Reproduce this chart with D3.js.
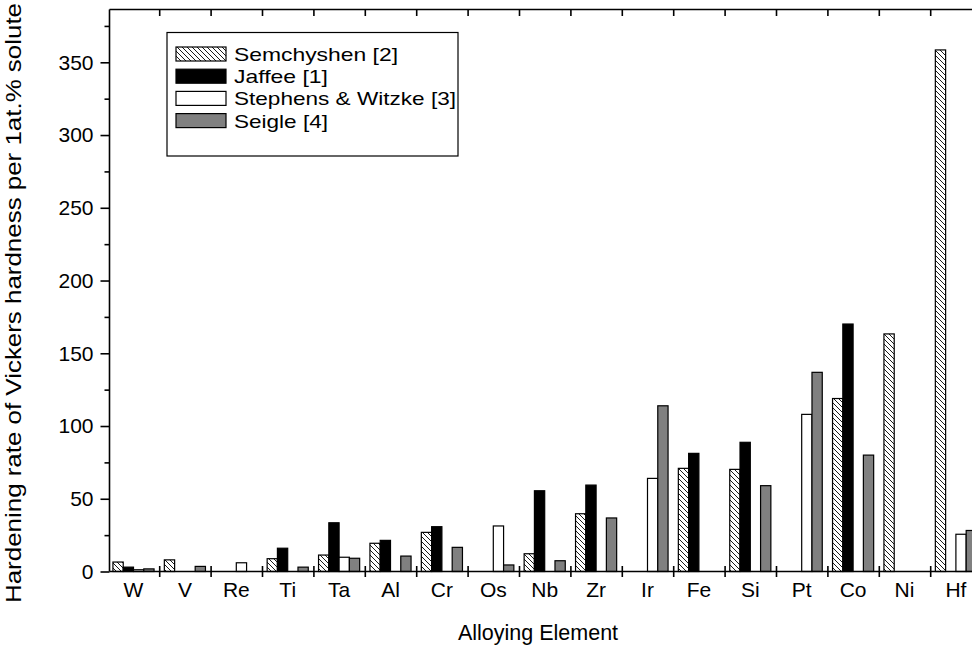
<!DOCTYPE html>
<html>
<head>
<meta charset="utf-8">
<script src="https://cdn.jsdelivr.net/npm/d3@7"></script>
<style>
  html, body { margin: 0; padding: 0; background: #fff; }
  svg { display: block; }
  text { font-family: "Liberation Sans", Arial, sans-serif; fill: #000; }
</style>
</head>
<body>
<svg id="chart" width="972" height="645"></svg>
<script>
const categories = ["W","V","Re","Ti","Ta","Al","Cr","Os","Nb","Zr","Ir","Fe","Si","Pt","Co","Ni","Hf"];
const semchyshen = [6.5, 8, null, 8.8, 11.3, 19.4, 26.9, null, 12.2, 39.7, null, 70.9, 70.2, null, 118.9, 163.3, 358.5];
const jaffee     = [3, null, null, 16, 33.5, 21.4, 30.8, null, 55.5, 59.4, null, 81.2, 88.8, null, 170.1, null, null];
const stephens   = [1.2, null, 6, null, 9.8, null, null, 31.3, null, null, 64, null, null, 108, null, null, 25.6];
const seigle     = [1.8, 3.5, null, 3, 9.1, 10.6, 16.6, 4.5, 7.4, 36.8, 113.9, null, 59, 136.9, 80, null, 28.2];
const seriesNames = ["Semchyshen [2]", "Jaffee [1]", "Stephens & Witzke [3]", "Seigle [4]"];
const yTicks = [0, 50, 100, 150, 200, 250, 300, 350];
const yMinorTicks = [25, 75, 125, 175, 225, 275, 325, 375];
const xTitle = "Alloying Element";
const yTitle = "Hardening rate of Vickers hardness per 1at.% solute";

const seriesValues = [semchyshen, jaffee, stephens, seigle];
const fills = ["url(#hatch)", "#000000", "#ffffff", "#808080"];
const legendWidths = [164, 94, 222, 94];

const svg = d3.select("#chart");
svg.append("rect").attr("width", 972).attr("height", 645).attr("fill", "#fff");

const defs = svg.append("defs");
const pat = defs.append("pattern").attr("id", "hatch").attr("patternUnits", "userSpaceOnUse")
  .attr("width", 5).attr("height", 5);
pat.append("rect").attr("width", 5).attr("height", 5).attr("fill", "#fff");
pat.append("path").attr("d", "M0,0 L5,5 M-1,4 L1,6 M4,-1 L6,1")
  .attr("stroke", "#000").attr("stroke-width", 0.9);

const axisLeftX = 109.5, plotTop = 9.5, plotBottom = 571.5, plotRight = 1000;
const bandStart = 107.8, bandW = 51.4;

const x = d3.scaleBand().domain(categories)
  .range([bandStart, bandStart + bandW * categories.length]).paddingInner(0).paddingOuter(0);
const xIdx = d3.scaleLinear().domain([0, categories.length]).range(x.range());
const xInner = d3.scaleBand().domain(d3.range(seriesValues.length))
  .range([0.1 * x.bandwidth(), 0.9 * x.bandwidth()]).padding(0);
const y = d3.scaleLinear().domain([0, (plotBottom - plotTop) / ((plotBottom - 62.3) / 350)])
  .range([plotBottom, plotTop]);

// Bars
const barData = [];
seriesValues.forEach((vals, s) => {
  vals.forEach((v, i) => { if (v !== null) barData.push({ cat: categories[i], s, v }); });
});
svg.append("g").selectAll("rect").data(barData).enter().append("rect")
  .attr("x", d => x(d.cat) + xInner(d.s))
  .attr("width", xInner.bandwidth())
  .attr("y", d => y(d.v))
  .attr("height", d => y(0) - y(d.v))
  .attr("fill", d => fills[d.s])
  .attr("stroke", "#000").attr("stroke-width", 1.2);

// Frame lines
const frame = svg.append("g").attr("stroke", "#000").attr("stroke-width", 1.6).attr("fill", "none");
frame.append("line").attr("x1", axisLeftX).attr("x2", axisLeftX).attr("y1", plotTop).attr("y2", plotBottom);
frame.append("line").attr("x1", axisLeftX).attr("x2", plotRight).attr("y1", plotTop).attr("y2", plotTop);
frame.append("line").attr("x1", axisLeftX).attr("x2", plotRight).attr("y1", plotBottom).attr("y2", plotBottom);

// Bottom ticks at category boundaries (crossing the axis)
const boundaries = d3.range(1, categories.length + 1);
const gbOut = svg.append("g").attr("transform", `translate(0,${plotBottom})`)
  .call(d3.axisBottom(xIdx).tickValues(boundaries).tickFormat("").tickSize(5.5));
const gbIn = svg.append("g").attr("transform", `translate(0,${plotBottom})`)
  .call(d3.axisBottom(xIdx).tickValues(boundaries).tickFormat("").tickSize(-5.5));
const gTop = svg.append("g").attr("transform", `translate(0,${plotTop})`)
  .call(d3.axisTop(xIdx).tickValues(boundaries).tickFormat("").tickSize(-6.5));
[gbOut, gbIn, gTop].forEach(g => {
  g.select(".domain").remove();
  g.selectAll("line").attr("stroke", "#000").attr("stroke-width", 1.6);
});

// Category labels
const gLab = svg.append("g").attr("transform", `translate(0,${plotBottom})`)
  .call(d3.axisBottom(x).tickSize(0).tickPadding(11));
gLab.select(".domain").remove();
gLab.selectAll("text").attr("font-size", 21).attr("font-family", '"Liberation Sans", Arial, sans-serif').attr("fill", "#000");

// Y axis
const gy = svg.append("g").attr("transform", `translate(${axisLeftX},0)`)
  .call(d3.axisLeft(y).tickValues(yTicks).tickSize(9).tickPadding(7));
gy.select(".domain").remove();
gy.selectAll("line").attr("stroke", "#000").attr("stroke-width", 1.6);
gy.selectAll("text").attr("font-size", 21).attr("font-family", '"Liberation Sans", Arial, sans-serif').attr("fill", "#000");
const gym = svg.append("g").attr("transform", `translate(${axisLeftX},0)`)
  .call(d3.axisLeft(y).tickValues(yMinorTicks).tickFormat("").tickSize(5));
gym.select(".domain").remove();
gym.selectAll("line").attr("stroke", "#000").attr("stroke-width", 1.6);

// Titles
svg.append("text").attr("x", 538).attr("y", 640).attr("text-anchor", "middle")
  .attr("font-size", 21.5).text(xTitle);
svg.append("text").attr("transform", "translate(21,303) rotate(-90)").attr("text-anchor", "middle")
  .attr("font-size", 22).attr("textLength", 600).attr("lengthAdjust", "spacingAndGlyphs").text(yTitle);

// Legend
const lg = svg.append("g");
lg.append("rect").attr("x", 167).attr("y", 32.5).attr("width", 291).attr("height", 123.5)
  .attr("fill", "#fff").attr("stroke", "#000").attr("stroke-width", 1.2);
seriesNames.forEach((name, s) => {
  const cy = 54 + s * 22.2;
  lg.append("rect").attr("x", 176).attr("y", cy - 7).attr("width", 50).attr("height", 14)
    .attr("fill", fills[s]).attr("stroke", "#000").attr("stroke-width", 1.2);
  lg.append("text").attr("x", 234).attr("y", cy + 7).attr("font-size", 19)
    .attr("textLength", legendWidths[s]).attr("lengthAdjust", "spacingAndGlyphs").text(name);
});
</script>
</body>
</html>
